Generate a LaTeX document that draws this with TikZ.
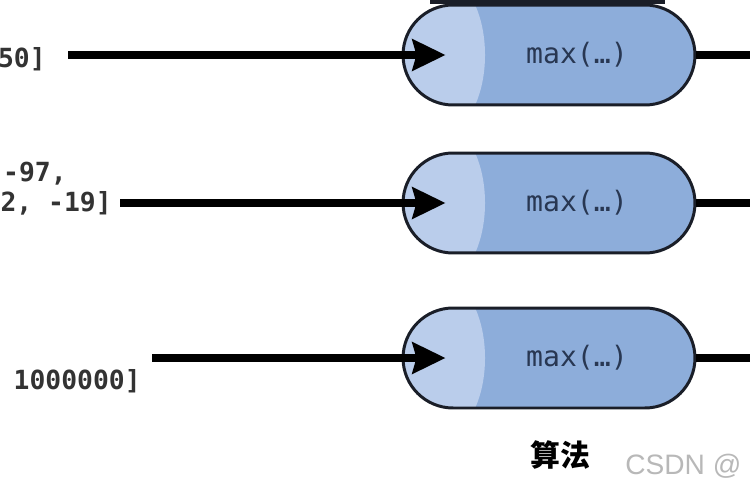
\documentclass[tikz,border=0pt]{standalone}
\usepackage{fontspec}
\setmonofont{DejaVu Sans Mono}
\setsansfont{Liberation Sans}
\newfontfamily\cjk{Noto Sans CJK SC}
\usepackage{tikz}
\usetikzlibrary{arrows.meta,shapes.misc}
\definecolor{capfill}{RGB}{141,173,218}
\definecolor{caplight}{RGB}{186,205,235}
\definecolor{capline}{RGB}{26,30,40}
\definecolor{captext}{RGB}{40,55,82}

\tikzset{
  capsule/.style={rounded rectangle, draw=capline, line width=1.7pt, fill=capfill,
                  minimum width=5.84cm, minimum height=2cm, inner sep=0pt,
                  path picture={\fill[caplight] ([xshift=0.74cm]path picture bounding box.west) ellipse (0.9cm and 1.6cm);}},
  captxt/.style={font=\ttfamily\fontsize{16}{19}\selectfont, text=captext, inner sep=0pt},
  intxt/.style={font=\ttfamily\bfseries\fontsize{15}{18}\selectfont, text=black!80, inner sep=0pt, anchor=east},
  feed/.style={line width=5pt, -{Stealth[length=0.66cm,width=0.62cm,inset=0.08cm]}},
  outline/.style={line width=5pt}
}

\begin{document}
\begin{tikzpicture}[x=0.02cm,y=-0.02cm]
                      \useasboundingbox (0,0) rectangle (750,500);
                      \fill[capline] (430,-2) rectangle (665,4);
                      % the three max(...) boxes
                      \foreach \i/\y/\sx in {1/55/68, 2/203/120, 3/358/152}
                      {
                        \node[capsule] (cap\i) at (549,\y) {};
                        \node[captxt] (lbl\i) at ([xshift=0.56cm]cap\i.center) {max(…)};
                        \coordinate (s\i) at (\sx,\y);
                        \coordinate (o\i) at (765,\y);
                        \draw[feed] (s\i) -- ([xshift=0.88cm]cap\i.west);
                        \draw[outline] (cap\i.east) -- (o\i);
                      }
                      % input lists, cut at the left edge
                      \node[intxt] (in1) at (46,59) {50]};
                      \node[intxt] (in2a) at (67,174) {-97,};
                      \node[intxt] (in2b) at (112,203) {2, -19]};
                      \node[intxt] (in3) at (141,381) {1000000]};
                      \node[font=\cjk\bfseries\fontsize{17}{20}\selectfont] (algo) at (560,455) {算法};
                      \node[font=\sffamily\fontsize{16}{19}\selectfont, text=black!28, anchor=west, inner sep=0pt] (mark) at (625,466) {CSDN @};
                  \end{tikzpicture}
\end{document}
